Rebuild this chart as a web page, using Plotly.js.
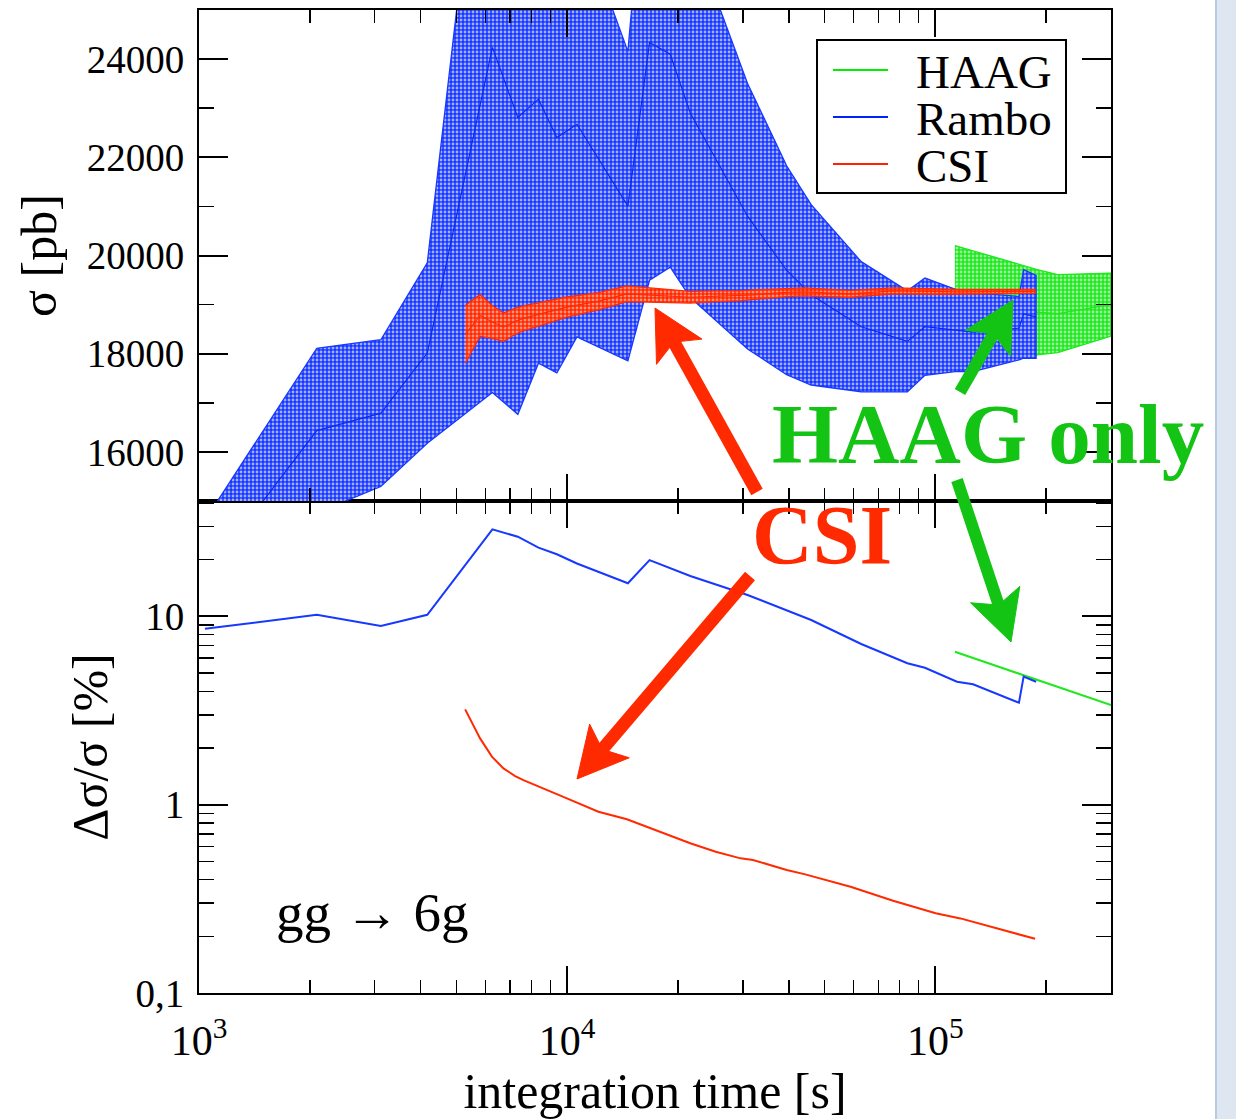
<!DOCTYPE html>
<html><head><meta charset="utf-8">
<script src="https://cdn.plot.ly/plotly-3.0.1.min.js"></script>
<style>html,body{margin:0;padding:0;background:#fff;} #chart{width:1236px;height:1119px;}</style>
</head><body><div id="chart"></div>
<script>
// ---------- data ----------
// Rambo: integration time [s], cross section [pb], relative error [%]
const t_rambo = [1038, 2089, 3118, 4169, 6265, 7345, 8356, 9376, 10630, 14620, 16740, 19050, 21600, 30900, 39450, 46000, 62900, 83950, 93700, 114500, 126600, 168700, 173700, 187800];
const sigma_rambo = [13450, 16435, 16790, 18014, 24239, 22810, 23184, 22402, 22673, 21006, 24340, 24100, 22900, 20800, 19700, 19200, 18550, 18250, 18550, 18470, 18440, 18520, 18810, 18750];
const err_rambo = [8.6, 10.2, 8.9, 10.2, 29.0, 26.5, 23.2, 21.4, 19.1, 15.0, 19.9, 18.0, 16.4, 13.0, 10.8, 9.57, 7.14, 5.64, 5.34, 4.50, 4.36, 3.48, 4.79, 4.50];

// CSI
const t_csi = [5283, 5801, 6245, 6713, 7223, 7607, 9982, 12160, 14530, 21590, 25320, 29580, 31960, 39470, 44060, 50380, 58840, 76800, 100200, 117000, 186600];
const sigma_csi = [18390, 18780, 18650, 18540, 18660, 18720, 18950, 19070, 19220, 19150, 19170, 19180, 19200, 19250, 19260, 19240, 19220, 19280, 19260, 19260, 19270];
const err_csi = [3.21, 2.25, 1.80, 1.56, 1.42, 1.35, 1.08, 0.918, 0.837, 0.624, 0.563, 0.519, 0.509, 0.450, 0.428, 0.398, 0.367, 0.309, 0.265, 0.249, 0.194];

// HAAG
const t_haag = [113000, 189000, 215000, 300000];
const sigma_haag = [18972, 18845, 18816, 19000];
const err_haag = [6.49, 4.61, 4.23, 3.38];

const series_names = ['HAAG', 'Rambo', 'CSI'];
const x_tick_vals = [1e3, 1e4, 1e5];
const x_tick_text = ['10<sup>3</sup>', '10<sup>4</sup>', '10<sup>5</sup>'];
const yerr_tick_vals = [0.1, 1, 10];
const yerr_tick_text = ['0,1', '1', '10'];
const ysig_tick_vals = [16000, 18000, 20000, 22000, 24000];
const ysig_tick_text = ['16000', '18000', '20000', '22000', '24000'];

// ---------- styling ----------
const C_GREEN = '#1ee81e', C_BLUE = '#1638ff', C_RED = '#ff2a00';
const C_GREEN_TXT = '#14c414';
const FONT = "'Liberation Serif', 'Times New Roman', Times, serif";

const W = 1236, H = 1119, ML = 199, MR = 125, MT = 10, MB = 126;
const PW = W - ML - MR, PH = H - MT - MB;
function px(x) { return (x - ML) / PW; }
function py(y) { return (H - MB - y) / PH; }

function band(t, c, e) {
  const up = c.map((v, i) => v * (1 + e[i] / 100));
  const lo = c.map((v, i) => v * (1 - e[i] / 100));
  return { x: t.concat(t.slice().reverse()), y: up.concat(lo.slice().reverse()) };
}
function minorLog(decades) {
  const out = [];
  decades.forEach(d => { for (let k = 2; k <= 9; k++) out.push(k * d); });
  return out;
}

function bandTrace(t, c, e, color, fgop) {
  const b = band(t, c, e);
  return {
    type: 'scatter', mode: 'lines', x: b.x, y: b.y, xaxis: 'x2', yaxis: 'y2',
    fill: 'toself', fillcolor: color,
    fillpattern: { shape: '.', bgcolor: color, fgcolor: '#ffffff', fgopacity: fgop, size: 4, solidity: 0.4 },
    line: { color: color, width: 1.3 }, hoverinfo: 'skip', showlegend: false
  };
}
function lineTrace(t, v, color, xa, ya, w) {
  return { type: 'scatter', mode: 'lines', x: t, y: v, xaxis: xa, yaxis: ya,
    line: { color: color, width: w }, showlegend: false };
}

// thick annotation arrow (slide decoration) given tail/tip in page pixels
function arrowShapes(tail, tip, color, w) {
  const dx = tip[0] - tail[0], dy = tip[1] - tail[1];
  const len = Math.hypot(dx, dy), ux = dx / len, uy = dy / len, nx = -uy, ny = ux;
  const Lh = 50, hw = 26, notch = 11;
  const base = [tip[0] - Lh * ux, tip[1] - Lh * uy];
  const inner = [tip[0] - (Lh - notch) * ux, tip[1] - (Lh - notch) * uy];
  const p1 = [base[0] + hw * nx, base[1] + hw * ny], p2 = [base[0] - hw * nx, base[1] - hw * ny];
  const pt = p => px(p[0]) + ',' + py(p[1]);
  return [
    { type: 'line', xref: 'paper', yref: 'paper', x0: px(tail[0]), y0: py(tail[1]), x1: px(inner[0] + 3 * ux), y1: py(inner[1] + 3 * uy), line: { color: color, width: w }, layer: 'above' },
    { type: 'path', xref: 'paper', yref: 'paper', path: 'M' + pt(tip) + ' L' + pt(p1) + ' L' + pt(inner) + ' L' + pt(p2) + ' Z', fillcolor: color, line: { color: color, width: 1 }, layer: 'above' }
  ];
}

const traces = [
  bandTrace(t_haag, sigma_haag, err_haag, C_GREEN, 0.55),
  lineTrace(t_haag, sigma_haag, C_GREEN, 'x2', 'y2', 1.2),
  bandTrace(t_rambo, sigma_rambo, err_rambo, C_BLUE, 0.6),
  lineTrace(t_rambo, sigma_rambo, '#0a2af0', 'x2', 'y2', 1.2),
  bandTrace(t_csi, sigma_csi, err_csi, C_RED, 0.5),
  lineTrace(t_csi, sigma_csi, C_RED, 'x2', 'y2', 1.2),
  lineTrace(t_haag, err_haag, C_GREEN, 'x', 'y', 2),
  lineTrace(t_rambo, err_rambo, C_BLUE, 'x', 'y', 2),
  lineTrace(t_csi, err_csi, C_RED, 'x', 'y', 2)
];

const tickFontX = { family: FONT, size: 42, color: '#000' };
const tickFontY = { family: FONT, size: 39, color: '#000' };
const titleFont = { family: FONT, size: 50, color: '#000' };

const xBase = {
  type: 'log', range: [3, Math.log10(3e5)], domain: [0, 1],
  tickmode: 'array', tickvals: x_tick_vals, ticktext: x_tick_text,
  ticks: 'inside', ticklen: 27, tickwidth: 2, tickcolor: '#000',
  showline: true, linewidth: 2, linecolor: '#000', mirror: 'ticks',
  showgrid: false, zeroline: false, automargin: false,
  minor: { tickmode: 'array', tickvals: minorLog([1e3, 1e4, 1e5]), ticks: 'inside', ticklen: 13, tickwidth: 1.5, tickcolor: '#000', showgrid: false },
  tickfont: tickFontX, ticklabelstandoff: 10
};

const shapes = [
  // slide background strip on the right
  { type: 'rect', xref: 'paper', yref: 'paper', x0: px(1215), x1: px(1240), y0: py(1125), y1: py(-5), fillcolor: '#dde6f1', line: { width: 0 }, layer: 'below' },
  { type: 'line', xref: 'paper', yref: 'paper', x0: px(1216), x1: px(1216), y0: py(1125), y1: py(-5), line: { color: '#b9c9df', width: 2 }, layer: 'below' },
  // legend box
  { type: 'rect', xref: 'paper', yref: 'paper', x0: px(817), x1: px(1066), y0: py(193), y1: py(40), fillcolor: '#ffffff', line: { color: '#000', width: 2 }, layer: 'above' },
  { type: 'line', xref: 'paper', yref: 'paper', x0: px(833), x1: px(888), y0: py(70), y1: py(70), line: { color: '#00ee00', width: 2 }, layer: 'above' },
  { type: 'line', xref: 'paper', yref: 'paper', x0: px(833), x1: px(888), y0: py(117), y1: py(117), line: { color: '#0022ff', width: 2 }, layer: 'above' },
  { type: 'line', xref: 'paper', yref: 'paper', x0: px(833), x1: px(888), y0: py(164), y1: py(164), line: { color: '#ff2200', width: 2 }, layer: 'above' }
].concat(
  arrowShapes([757, 492], [655, 308], C_RED, 13),
  arrowShapes([750, 576], [577, 779], C_RED, 13),
  arrowShapes([960, 392], [1013, 300], C_GREEN_TXT, 12),
  arrowShapes([957, 480], [1011, 642], C_GREEN_TXT, 12)
);

const layout = {
  width: W, height: H,
  margin: { l: ML, r: MR, t: MT, b: MB, pad: 0 },
  paper_bgcolor: '#ffffff', plot_bgcolor: '#ffffff',
  showlegend: false,
  font: { family: FONT, color: '#000' },
  xaxis: Object.assign({}, xBase, { anchor: 'y', title: { text: 'integration time [s]', font: titleFont, standoff: 4 } }),
  xaxis2: Object.assign({}, xBase, { anchor: 'y2', matches: 'x', showticklabels: false }),
  yaxis: {
    domain: [0, 0.5005], anchor: 'x', type: 'log', range: [-1, 1.613],
    tickmode: 'array', tickvals: yerr_tick_vals, ticktext: yerr_tick_text,
    ticks: 'inside', ticklen: 29, tickwidth: 2, tickcolor: '#000',
    showline: true, linewidth: 2, linecolor: '#000', mirror: 'ticks',
    showgrid: false, zeroline: false, automargin: false,
    minor: { tickmode: 'array', tickvals: minorLog([0.1, 1, 10]).filter(v => v <= 41), ticks: 'inside', ticklen: 15, tickwidth: 1.5, tickcolor: '#000', showgrid: false },
    tickfont: tickFontY, ticklabelstandoff: 5,
    title: { text: 'Δσ/σ [%]', font: titleFont, standoff: 12 }
  },
  yaxis2: {
    domain: [0.5005, 1], anchor: 'x2', range: [15000, 25000],
    tickmode: 'array', tickvals: ysig_tick_vals, ticktext: ysig_tick_text,
    ticks: 'inside', ticklen: 29, tickwidth: 2, tickcolor: '#000',
    showline: true, linewidth: 2, linecolor: '#000', mirror: 'ticks',
    showgrid: false, zeroline: false, automargin: false,
    minor: { tickmode: 'linear', tick0: 15000, dtick: 1000, ticks: 'inside', ticklen: 15, tickwidth: 1.5, tickcolor: '#000', showgrid: false },
    tickfont: tickFontY, ticklabelstandoff: 5,
    title: { text: 'σ [pb]', font: titleFont, standoff: 14 }
  },
  shapes: shapes,
  annotations: [
    { xref: 'paper', yref: 'paper', x: px(914), y: py(72), xanchor: 'left', yanchor: 'middle', text: series_names[0], showarrow: false, font: { family: FONT, size: 47, color: '#000' } },
    { xref: 'paper', yref: 'paper', x: px(914), y: py(119), xanchor: 'left', yanchor: 'middle', text: series_names[1], showarrow: false, font: { family: FONT, size: 47, color: '#000' } },
    { xref: 'paper', yref: 'paper', x: px(914), y: py(166), xanchor: 'left', yanchor: 'middle', text: series_names[2], showarrow: false, font: { family: FONT, size: 47, color: '#000' } },
    { xref: 'paper', yref: 'paper', x: px(988), y: py(434), xanchor: 'center', yanchor: 'middle', text: '<b>HAAG only</b>', showarrow: false, font: { family: FONT, size: 85, color: C_GREEN_TXT } },
    { xref: 'paper', yref: 'paper', x: px(822), y: py(535), xanchor: 'center', yanchor: 'middle', text: '<b>CSI</b>', showarrow: false, font: { family: FONT, size: 84, color: C_RED } },
    { xref: 'paper', yref: 'paper', x: px(372), y: py(912), xanchor: 'center', yanchor: 'middle', text: 'gg → 6g', showarrow: false, font: { family: FONT, size: 55, color: '#000' } }
  ]
};

Plotly.newPlot('chart', traces, layout, { staticPlot: true, displayModeBar: false });
</script></body></html>
